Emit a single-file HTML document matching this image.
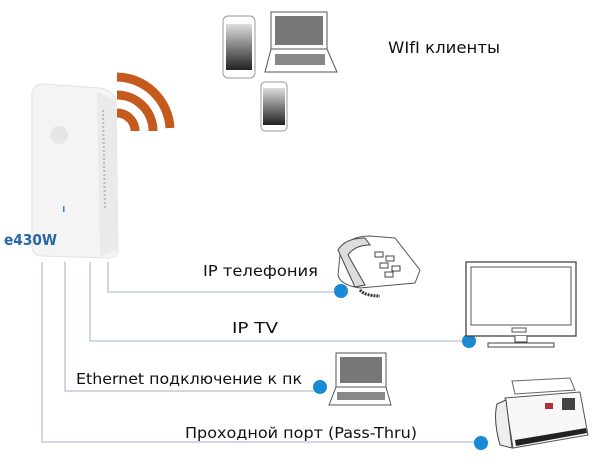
<!DOCTYPE html>
<html><head><meta charset="utf-8"><style>
html,body{margin:0;padding:0;background:#fff;}
svg{display:block}
text{font-family:"DejaVu Sans","Liberation Sans",sans-serif;fill:#111;}
</style></head><body>
<svg width="612" height="459" viewBox="0 0 612 459" xmlns="http://www.w3.org/2000/svg">
<defs>
<linearGradient id="scr" x1="0" y1="0" x2="0" y2="1"><stop offset="0" stop-color="#ddd"/><stop offset="1" stop-color="#222"/></linearGradient>
</defs>
<g stroke="#b5c0d6" stroke-width="1.3" fill="none">
<path d="M108 262 V292 H341"/>
<path d="M90 262 V341 H469"/>
<path d="M65 262 V391 H320"/>
<path d="M42 262 V442 H481"/>
</g>
<g fill="#1a8ad4">
<circle cx="341" cy="291" r="7"/>
<circle cx="469" cy="341" r="7"/>
<circle cx="320" cy="387" r="7"/>
<circle cx="481" cy="443" r="7"/>
</g>
<path d="M32 92 Q34 84 44 84 L100 88 Q112 90 116 100 L118 250 Q118 258 108 258 L42 256 Q32 256 32 246 Z" fill="#f4f4f4" stroke="#e2e2e2"/>
<path d="M97 92 L116 100 L118 250 L100 256 Z" fill="#eaeaea"/>
<line x1="103" y1="110" x2="105" y2="210" stroke="#bbb" stroke-width="2" stroke-dasharray="2 2"/>
<circle cx="59" cy="135" r="9" fill="#e6e6e6"/>
<rect x="63" y="206" width="1.5" height="6" fill="#3a7bd5"/>
<text x="4" y="245" font-size="15" font-weight="bold" textLength="53" lengthAdjust="spacingAndGlyphs" style="fill:#2a66a4">e430W</text>
<g fill="none" stroke="#c65a1c" stroke-width="9">
<path d="M117 113 A18 18 0 0 1 135 131"/>
<path d="M117 95 A36 36 0 0 1 153 131" />
<path d="M117 77 A54 54 0 0 1 170 128"/>
</g>
<rect x="223" y="16" width="32" height="62" rx="5" fill="#fff" stroke="#999"/>
<rect x="226" y="24" width="26" height="46" fill="url(#scr)"/>
<rect x="261" y="82" width="26" height="49" rx="4" fill="#fff" stroke="#999"/>
<rect x="263" y="88" width="22" height="37" fill="url(#scr)"/>
<rect x="271" y="12" width="56" height="37" fill="#fff" stroke="#555"/>
<rect x="275" y="16" width="48" height="29" fill="#777"/>
<path d="M271 49 L327 49 L337 72 L265 72 Z" fill="#fff" stroke="#555"/>
<rect x="275" y="54" width="50" height="11" fill="#888"/>
<text x="388" y="53" font-size="16" textLength="112" lengthAdjust="spacingAndGlyphs">WIfI клиенты</text>
<text x="203" y="276" font-size="15" textLength="115" lengthAdjust="spacingAndGlyphs">IP телефония</text>
<text x="232" y="333" font-size="15" textLength="46" lengthAdjust="spacingAndGlyphs">IP TV</text>
<text x="76" y="384" font-size="15" textLength="226" lengthAdjust="spacingAndGlyphs">Ethernet подключение к пк</text>
<text x="185" y="438" font-size="15" textLength="232" lengthAdjust="spacingAndGlyphs">Проходной порт (Pass-Thru)</text>
<path d="M340 255 Q345 236 370 236 L395 238 L420 270 L415 283 L360 288 Q340 285 338 275 Z" fill="#fff" stroke="#555"/>
<path d="M338 250 Q345 238 365 238 L370 245 Q355 245 348 255 L365 285 L355 287 Z" fill="#ddd" stroke="#444"/>
<g fill="#fff" stroke="#444"><rect x="375" y="252" width="8" height="5"/><rect x="386" y="256" width="8" height="5"/><rect x="380" y="263" width="8" height="5"/><rect x="392" y="266" width="8" height="5"/><rect x="385" y="272" width="8" height="5"/></g>
<path d="M360 290 q5 6 20 6" stroke="#333" stroke-width="3" fill="none" stroke-dasharray="2 1"/>
<rect x="466" y="262" width="110" height="74" fill="#fff" stroke="#444" stroke-width="1.3"/>
<rect x="471" y="267" width="100" height="58" fill="#fff" stroke="#555"/>
<rect x="512" y="328" width="14" height="4" fill="none" stroke="#555"/>
<path d="M515 336 v6 h12 v-6 M488 343 h66 v4 h-66 z" fill="#fff" stroke="#444"/>
<rect x="336" y="353" width="50" height="34" fill="#fff" stroke="#555"/>
<rect x="340" y="357" width="42" height="26" fill="#777"/>
<path d="M336 387 L386 387 L391 405 L329 405 Z" fill="#fff" stroke="#555"/>
<rect x="337" y="392" width="48" height="8" fill="#888"/>
<path d="M512 381 L570 378 L575 390 L515 394 Z" fill="#fff" stroke="#666"/>
<path d="M505 398 L580 392 L588 435 L513 448 Z" fill="#f8f8f8" stroke="#555"/>
<path d="M497 404 Q493 420 500 445 L512 448 L506 400 Z" fill="#eee" stroke="#444"/>
<rect x="562" y="398" width="13" height="12" fill="#444"/>
<rect x="545" y="403" width="8" height="6" fill="#a33"/>
<path d="M515 440 L586 428 L587 433 L516 446 Z" fill="#222"/>
</svg>
</body></html>
